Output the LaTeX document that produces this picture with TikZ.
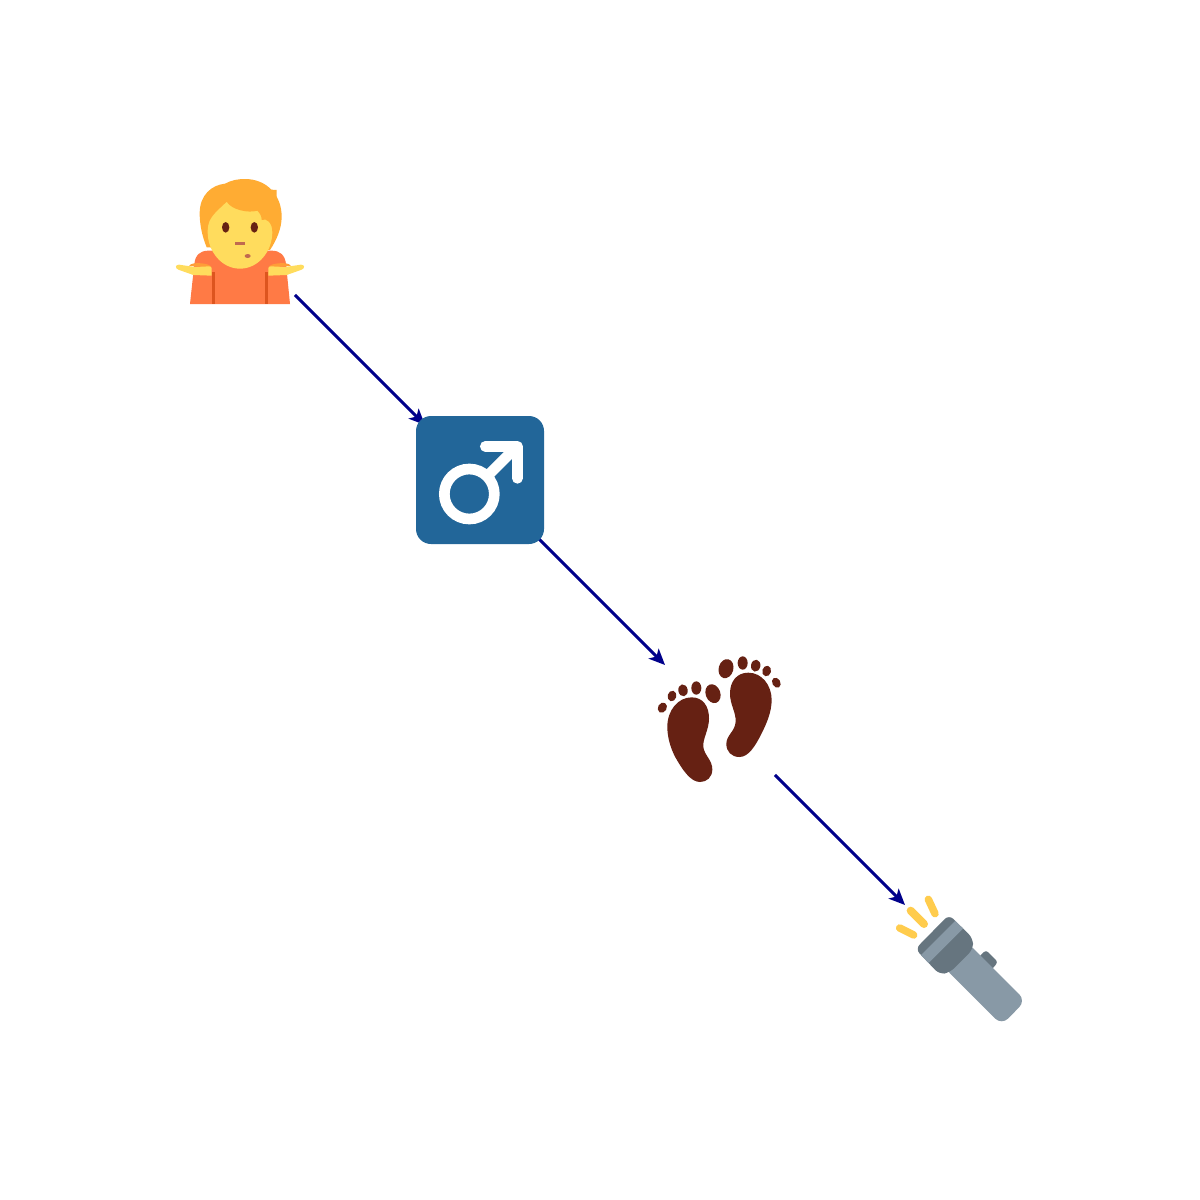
\documentclass[tikz,border=0pt]{standalone}
\usetikzlibrary{arrows.meta}
\definecolor{arrowblue}{HTML}{00008B}
\definecolor{hairc}{HTML}{FFAC33}
\definecolor{skinc}{HTML}{FFDC5D}
\definecolor{shirtc}{HTML}{FF7A45}
\definecolor{shirtd}{HTML}{DD551F}
\definecolor{eyec}{HTML}{662113}
\definecolor{mouthc}{HTML}{C1694F}
\definecolor{boxc}{HTML}{226699}
\definecolor{darkg}{HTML}{66757F}
\definecolor{lightg}{HTML}{8899A6}
\definecolor{rayc}{HTML}{FFCC4D}
\tikzset{
  slot/.style={minimum size=110pt,inner sep=0pt,outer sep=0pt},
  link/.style={draw=arrowblue,line width=3pt,-{Stealth[length=16pt,width=14pt,inset=4pt]}},
  icon/.style={shift={#1},scale=1/3},
  ray/.style={draw=rayc,line cap=round}
}
\begin{document}
\begin{tikzpicture}[x=1pt,y=-1pt]
\useasboundingbox (0,0) rectangle (1200,1200);
\fill[white] (0,0) rectangle (1200,1200);
\node[slot] (person) at (240,240) {};
\node[slot] (male) at (480,480) {};
\node[slot] (feet) at (720,720) {};
\node[slot] (torch) at (960,960) {};
\draw[link] (person) -- (male);
\draw[link] (male) -- (feet);
\draw[link] (feet) -- (torch);
% person
\begin{scope}[icon={(160,160)}]
\fill[shirtc] (90,432) -- (103,312) .. controls (106,285) and (120,272) .. (145,272) -- (335,272) .. controls (360,272) and (375,285) .. (378,312) -- (390,432) -- cycle;
\fill[shirtd] (156,335) rectangle (165,432);
\fill[shirtd] (315,335) rectangle (324,432);
\fill[hairc] (140,262) .. controls (125,225) and (119,190) .. (119,160) .. controls (119,105) and (155,75) .. (195,71) .. controls (215,60) and (235,57) .. (255,57) .. controls (320,57) and (365,105) .. (365,170) .. controls (365,205) and (350,240) .. (330,270) -- cycle;
\fill[skinc] (240,215) ellipse [x radius=97, y radius=111];
\fill[hairc] (143,205) .. controls (145,170) and (175,150) .. (200,125) .. controls (215,150) and (265,160) .. (292,152) .. controls (300,160) and (305,168) .. (305,180) .. controls (320,172) and (337,190) .. (337,215) -- (350,200) -- (350,90) -- (200,80) -- (130,130) -- cycle;
\fill[eyec] (197,202) ellipse [x radius=11, y radius=16];
\fill[eyec] (283,202) ellipse [x radius=11, y radius=16];
\fill[mouthc] (225,245) rectangle (255,256);
\fill[mouthc] (263,288) ellipse [x radius=9, y radius=6];
\fill[hairc!70!shirtc] (87,318) .. controls (90,310) and (110,308) .. (125,310) .. controls (140,312) and (150,314) .. (155,322) -- cycle;
\fill[hairc!70!shirtc] (393,318) .. controls (390,310) and (370,308) .. (355,310) .. controls (340,312) and (330,314) .. (325,322) -- cycle;
\fill[skinc] (155,347) -- (100,345) -- (55,329) .. controls (45,325) and (45,314) .. (57,314) -- (105,321) -- (148,319) .. controls (153,320) and (155,322) .. (155,326) -- cycle;
\fill[skinc] (325,347) -- (380,345) -- (425,329) .. controls (435,325) and (435,314) .. (423,314) -- (375,321) -- (332,319) .. controls (327,320) and (325,322) .. (325,326) -- cycle;
\end{scope}
% male sign
\begin{scope}[icon={(400,400)}]
\fill[boxc,rounded corners=15pt] (48,48) rectangle (432,432);
\draw[white,line width=10.7pt] (208,282) circle [radius=75];
\draw[white,line width=10.7pt] (268,222) -- (345,145);
\draw[white,line width=10.7pt,line cap=round,line join=round] (256,139) -- (352,139) -- (352,235);
\end{scope}
% feet
\begin{scope}[icon={(640,640)},eyec]
\fill (155,172) .. controls (190,172) and (207,200) .. (207,235) .. controls (207,270) and (188,295) .. (190,320) .. controls (192,345) and (217,360) .. (217,388) .. controls (217,412) and (200,426) .. (180,426) .. controls (150,426) and (125,385) .. (105,350) .. controls (90,320) and (82,290) .. (82,260) .. controls (82,210) and (115,172) .. (155,172) -- cycle;
\fill (219,161) ellipse [x radius=22, y radius=29, rotate=20];
\fill (169,144) ellipse [x radius=15, y radius=20];
\fill (129,151) ellipse [x radius=14, y radius=18, rotate=10];
\fill (96,168) ellipse [x radius=13, y radius=16, rotate=-15];
\fill (67,203) ellipse [x radius=13, y radius=16, rotate=-30];
\fill (325,98) .. controls (365,98) and (395,135) .. (395,180) .. controls (395,215) and (380,250) .. (365,280) .. controls (345,320) and (325,351) .. (298,351) .. controls (275,351) and (259,335) .. (259,312) .. controls (259,285) and (285,275) .. (287,245) .. controls (288,215) and (270,195) .. (270,160) .. controls (270,125) and (290,98) .. (325,98) -- cycle;
\fill (258,86) ellipse [x radius=22, y radius=29, rotate=-15];
\fill (308,69) ellipse [x radius=15, y radius=20];
\fill (347,77) ellipse [x radius=14, y radius=18, rotate=-10];
\fill (380,93) ellipse [x radius=13, y radius=16, rotate=-15];
\fill (409,128) ellipse [x radius=12, y radius=16, rotate=30];
\end{scope}
% flashlight
\begin{scope}[icon={(880,880)}]
\fill[darkg,rounded corners=3pt] (295,232) -- (318,210) -- (354,246) -- (334,270) -- cycle;
\fill[lightg,rounded corners=9pt] (260,185) -- (437,362) -- (365,435) -- (190,260) -- cycle;
\begin{scope}
\clip[rounded corners=6pt] (106,207) -- (207,104) -- (279,175) -- (279,208) -- (209,278) -- (178,283) -- cycle;
\fill[darkg] (90,90) rectangle (300,300);
\fill[lightg] (110,238) -- (240,108) -- (268,127) -- (138,257) -- cycle;
\end{scope}
\draw[ray,line width=7.5pt] (145,58) -- (165,101);
\draw[ray,line width=8pt] (92,92) -- (132,132);
\draw[ray,line width=7.5pt] (59,144) -- (101,165);
\end{scope}
\end{tikzpicture}
\end{document}
